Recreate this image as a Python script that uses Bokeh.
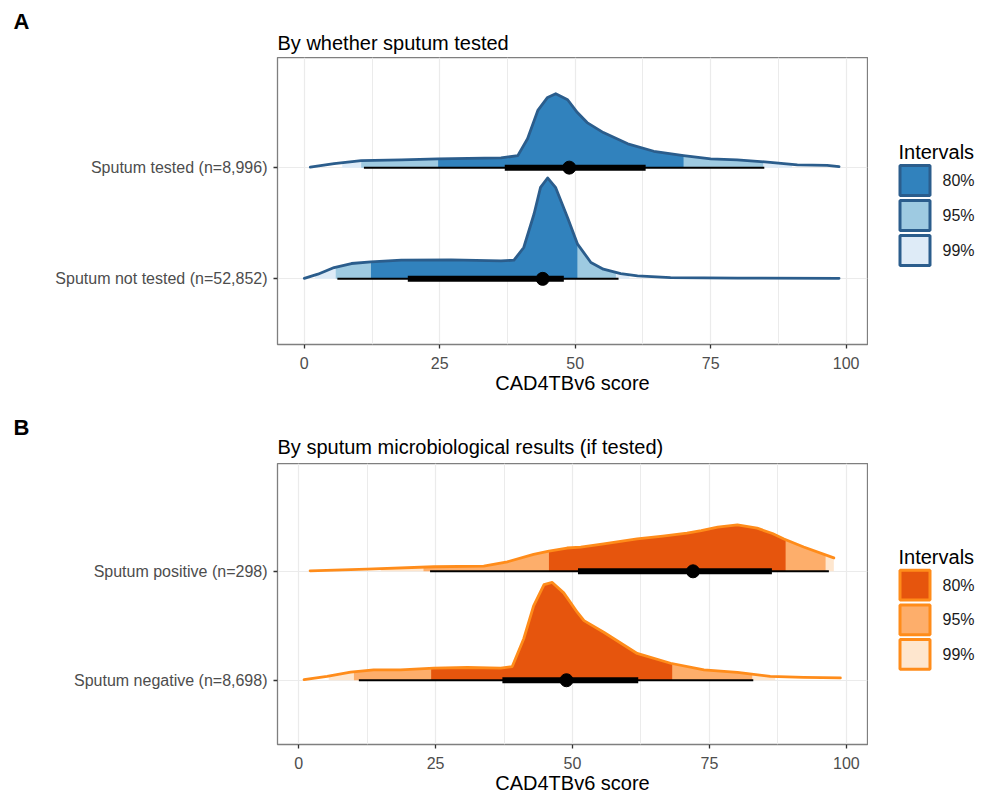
import numpy as np
from bokeh.plotting import figure
from bokeh.layouts import column, row
from bokeh.models import FixedTicker, Range1d
from bokeh.core.properties import value
from bokeh.embed import file_html
from bokeh.resources import INLINE

FONT = "Liberation Sans"

# ---------------- data: panel A ----------------
a_letter = "A"
a_title = "By whether sputum tested"
a_labels = ["Sputum not tested (n=52,852)", "Sputum tested (n=8,996)"]
nottested_x = [0, 2.5, 5.5, 8.7, 12.3, 17.9, 27.1, 36.3, 38.7, 40.5, 42.4, 43.6, 44.9,
               46.4, 48.6, 50.4, 52.9, 55.2, 58.4, 61.5, 67.6, 80, 98.7]
nottested_h = [0.005, 0.042, 0.102, 0.138, 0.153, 0.168, 0.171, 0.162, 0.168, 0.282, 0.583,
               0.823, 0.907, 0.82, 0.55, 0.315, 0.147, 0.087, 0.048, 0.027, 0.012, 0.007, 0.005]
tested_x = [1.1, 5.5, 10.5, 17.9, 24.7, 30.2, 36.3, 39.4, 41.2, 43.1, 44.9, 46.4, 48.6,
            50.4, 52.2, 55.2, 59.7, 64.5, 70.0, 75.0, 79.9, 86.0, 91.0, 96.5, 98.7]
tested_h = [0.005, 0.036, 0.063, 0.069, 0.078, 0.084, 0.087, 0.108, 0.259, 0.514, 0.631,
            0.664, 0.61, 0.495, 0.405, 0.315, 0.214, 0.147, 0.108, 0.078, 0.069, 0.048,
            0.024, 0.021, 0.009]
a_ci80 = [(12.3, 50.4), (24.7, 70.0)]
a_ci95 = [(5.8, 57.5), (10.5, 84.7)]
a_ci99 = [(2.0, 60.0), (7.0, 90.0)]
a_thick = [(19.1, 47.9), (37.0, 63.0)]
a_thin = [(6.1, 58.0), (11.0, 84.9)]
a_point = [44.0, 48.9]

# ---------------- data: panel B ----------------
b_letter = "B"
b_title = "By sputum microbiological results (if tested)"
b_labels = ["Sputum negative (n=8,698)", "Sputum positive (n=298)"]
negative_x = [1.0, 5.2, 9.5, 13.7, 18.6, 24.7, 30.8, 36.9, 39.0, 41.1, 42.9, 44.8, 46.3,
              48.4, 50.9, 52.1, 55.7, 61.8, 67.9, 74.0, 80.1, 86.1, 92.2, 98.9]
negative_h = [0.006, 0.036, 0.075, 0.096, 0.096, 0.111, 0.117, 0.111, 0.126, 0.381, 0.682,
              0.877, 0.898, 0.802, 0.622, 0.547, 0.441, 0.246, 0.156, 0.096, 0.072, 0.036,
              0.027, 0.021]
positive_x = [2.1, 12.5, 24.7, 33.8, 38.1, 42.9, 45.7, 49.0, 51.5, 55.7, 61.8, 66.5, 70.9,
              73.5, 76.5, 80.1, 83.7, 86.5, 88.6, 92.2, 97.7]
positive_h = [0.005, 0.021, 0.042, 0.048, 0.087, 0.156, 0.186, 0.214, 0.223, 0.252, 0.297,
              0.324, 0.351, 0.374, 0.405, 0.426, 0.396, 0.347, 0.297, 0.223, 0.123]
b_ci80 = [(24.2, 68.2), (45.7, 88.9)]
b_ci95 = [(10.1, 82.8), (22.8, 96.2)]
b_ci99 = [(5.5, 87.0), (15.0, 97.7)]
b_thick = [(37.2, 62.0), (51.0, 86.4)]
b_thin = [(11.0, 83.0), (24.0, 96.8)]
b_point = [48.9, 72.0]

x_ticks = [0, 25, 50, 75, 100]
x_minor = [12.5, 37.5, 62.5, 87.5]
legend_title = "Intervals"
interval_labels = ["80%", "95%", "99%"]
blues = ["#3182bd", "#9ecae1", "#deebf7"]
oranges = ["#e6550d", "#fdae6b", "#fee6ce"]

# ---------------- layout constants (pixels) ----------------
W = 985
LEFT = 277
FRAME_W = 590
MAIN_W = LEFT + FRAME_W + 1
LEG_W = W - MAIN_W


def band(xs, hs, lo, hi):
    xs = np.asarray(xs, float)
    hs = np.asarray(hs, float)
    lo = max(lo, xs[0])
    hi = min(hi, xs[-1])
    m = (xs > lo) & (xs < hi)
    bx = np.concatenate([[lo], xs[m], [hi]])
    bh = np.concatenate([[np.interp(lo, xs, hs)], hs[m], [np.interp(hi, xs, hs)]])
    return bx, bh


def bare_figure(w, h, frame_h=None, bottom=0):
    # a figure whose frame spans its width; y counts pixels downward from the frame top
    fh = h if frame_h is None else frame_h
    f = figure(width=w, height=h, output_backend="svg", toolbar_location=None,
               x_range=Range1d(0, w), y_range=Range1d(fh, 0),
               x_axis_location=None, y_axis_location=None,
               min_border=0, min_border_left=0, min_border_right=0,
               min_border_top=0, min_border_bottom=bottom)
    f.grid.visible = False
    f.outline_line_color = None
    f.background_fill_color = "white"
    f.border_fill_color = "white"
    return f


def make_strip(letter, title, h, letter_top, title_base):
    s = bare_figure(W, h)
    s.text(x=[13], y=[letter_top], text=[letter], text_font=value(FONT),
           text_font_size="22px", text_font_style="bold", text_color="#000000",
           text_baseline="top", text_align="left")
    s.text(x=[LEFT], y=[title_base], text=[title], text_font=value(FONT),
           text_font_size="20px", text_color="#000000",
           text_baseline="alphabetic", text_align="left")
    return s


def make_main(labels, curves, ci80, ci95, ci99, thick, thin, point,
              fills, outline, xr, frame_h, bottom):
    p = figure(width=MAIN_W, height=frame_h + bottom, output_backend="svg",
               toolbar_location=None,
               x_range=Range1d(*xr), y_range=Range1d(0.41, 2.99),
               min_border_left=LEFT, min_border_right=1,
               min_border_top=0, min_border_bottom=bottom)
    p.background_fill_color = "white"
    p.border_fill_color = "white"
    p.outline_line_color = "#7f7f7f"
    p.outline_line_width = 1.3

    p.xaxis.ticker = FixedTicker(ticks=x_ticks, minor_ticks=x_minor)
    p.xaxis.axis_label = "CAD4TBv6 score"
    p.xaxis.axis_label_text_font = FONT
    p.xaxis.axis_label_text_font_size = "20px"
    p.xaxis.axis_label_text_font_style = "normal"
    p.xaxis.axis_label_text_color = "#000000"
    p.xaxis.axis_label_standoff = 0
    p.yaxis.ticker = FixedTicker(ticks=[1, 2])
    p.yaxis.major_label_overrides = {1: labels[0], 2: labels[1]}
    for ax in (p.xaxis, p.yaxis):
        ax.axis_line_color = None
        ax.major_tick_in = 0
        ax.major_tick_out = 4
        ax.major_tick_line_color = "#333333"
        ax.major_tick_line_width = 1.3
        ax.minor_tick_line_color = None
        ax.major_label_text_font = FONT
        ax.major_label_text_font_size = "16px"
        ax.major_label_text_color = "#4d4d4d"
    p.xaxis.major_label_standoff = 8
    p.yaxis.major_label_standoff = 6
    p.xgrid.grid_line_color = "#ebebeb"
    p.xgrid.grid_line_width = 1.2
    p.xgrid.minor_grid_line_color = "#ebebeb"
    p.xgrid.minor_grid_line_width = 1.0
    p.ygrid.grid_line_color = "#ebebeb"
    p.ygrid.grid_line_width = 1.2

    for i, (xs, hs) in enumerate(curves):
        y0 = i + 1
        for (lo, hi), c in zip([ci99[i], ci95[i], ci80[i]], [fills[2], fills[1], fills[0]]):
            bx, bh = band(xs, hs, lo, hi)
            p.varea(x=bx, y1=np.full(len(bx), y0), y2=y0 + bh, fill_color=c)
        p.line(x=xs, y=y0 + np.asarray(hs), line_color=outline, line_width=2.8,
               line_join="round", line_cap="round")
        p.segment(x0=[thin[i][0]], y0=[y0], x1=[thin[i][1]], y1=[y0],
                  line_color="black", line_width=2)
        p.segment(x0=[thick[i][0]], y0=[y0], x1=[thick[i][1]], y1=[y0],
                  line_color="black", line_width=6)
        p.scatter(x=[point[i]], y=[y0], size=13, color="black")
    return p


def make_legend(fills, outline, frame_h, bottom):
    # legend drawn beside the panel; y counts pixels down from the panel's frame top
    f = bare_figure(LEG_W, frame_h + bottom, frame_h, bottom)
    box, pitch, top0, x0 = 33, 35, 106.5, 30
    tops = [top0 + pitch * k for k in range(len(interval_labels))]
    f.text(x=[x0], y=[94.5], text=[legend_title], text_font=value(FONT),
           text_font_size="20px", text_color="#000000", text_baseline="alphabetic")
    f.quad(left=[x0 + 1.5] * len(tops), right=[x0 + box - 1.5] * len(tops),
           top=[t + 1.5 for t in tops], bottom=[t + box - 1.5 for t in tops],
           fill_color=fills, line_color=outline, line_width=3)
    f.text(x=[x0 + box + 11] * len(tops), y=[t + box / 2 for t in tops],
           text=interval_labels, text_font=value(FONT), text_font_size="16px",
           text_color="#1a1a1a", text_baseline="middle")
    return f


# panel A: strip 57 px, frame 287 px, bottom 52 px
stripA = make_strip(a_letter, a_title, 57, 8, 42)
mainA = make_main(a_labels, [(nottested_x, nottested_h), (tested_x, tested_h)],
                  a_ci80, a_ci95, a_ci99, a_thick, a_thin, a_point,
                  blues, "#2b5d8c", (-4.95, 103.95), 287, 52)
legA = make_legend(blues, "#2b5d8c", 287, 52)

# panel B: strip 67 px, frame 284 px, bottom 49 px
stripB = make_strip(b_letter, b_title, 67, 18, 50.5)
mainB = make_main(b_labels, [(negative_x, negative_h), (positive_x, positive_h)],
                  b_ci80, b_ci95, b_ci99, b_thick, b_thin, b_point,
                  oranges, "#ff8c1a", (-3.85, 103.85), 284, 49)
legB = make_legend(oranges, "#ff8c1a", 284, 49)

layout = column(stripA, row(mainA, legA, spacing=0), stripB, row(mainB, legB, spacing=0),
                spacing=0)
open("out.html", "w").write(file_html(layout, INLINE))
